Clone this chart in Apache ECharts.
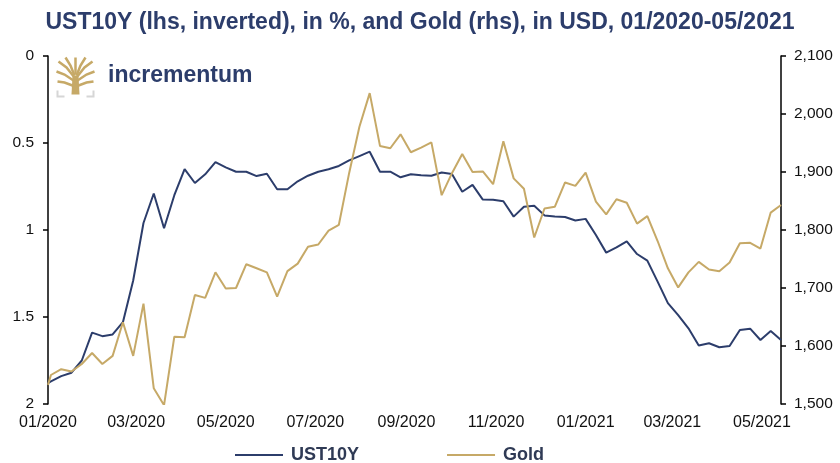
<!DOCTYPE html>
<html>
<head>
<meta charset="utf-8">
<script src="https://cdn.jsdelivr.net/npm/echarts@6/dist/echarts.min.js"></script>
<style>
  html, body { margin: 0; padding: 0; background: #fff; }
  #chart { width: 840px; height: 463px; }
</style>
</head>
<body>
<div id="chart"></div>
<script>
// weekly dates (first point is the axis start)
var dates = [
  '2020-01-01', '2020-01-03', '2020-01-10', '2020-01-17', '2020-01-24', '2020-01-31',
  '2020-02-07', '2020-02-14', '2020-02-21', '2020-02-28',
  '2020-03-06', '2020-03-13', '2020-03-20', '2020-03-27',
  '2020-04-03', '2020-04-10', '2020-04-17', '2020-04-24',
  '2020-05-01', '2020-05-08', '2020-05-15', '2020-05-22', '2020-05-29',
  '2020-06-05', '2020-06-12', '2020-06-19', '2020-06-26',
  '2020-07-03', '2020-07-10', '2020-07-17', '2020-07-24', '2020-07-31',
  '2020-08-07', '2020-08-14', '2020-08-21', '2020-08-28',
  '2020-09-04', '2020-09-11', '2020-09-18', '2020-09-25',
  '2020-10-02', '2020-10-09', '2020-10-16', '2020-10-23', '2020-10-30',
  '2020-11-06', '2020-11-13', '2020-11-20', '2020-11-27',
  '2020-12-04', '2020-12-11', '2020-12-18', '2020-12-25',
  '2021-01-01', '2021-01-08', '2021-01-15', '2021-01-22', '2021-01-29',
  '2021-02-05', '2021-02-12', '2021-02-19', '2021-02-26',
  '2021-03-05', '2021-03-12', '2021-03-19', '2021-03-26',
  '2021-04-02', '2021-04-09', '2021-04-16', '2021-04-23', '2021-04-30',
  '2021-05-07', '2021-05-14'
];

var ust10y = [
  1.88, 1.87, 1.84, 1.82, 1.75, 1.59, 1.61, 1.60, 1.53, 1.29,
  0.96, 0.79, 0.99, 0.80, 0.65, 0.73, 0.68, 0.61, 0.64, 0.665,
  0.665, 0.69, 0.677, 0.766, 0.766, 0.72, 0.688, 0.665, 0.651, 0.632,
  0.60, 0.575, 0.55, 0.665, 0.665, 0.697, 0.68, 0.686, 0.688, 0.67,
  0.678, 0.78, 0.741, 0.825, 0.826, 0.835, 0.923, 0.866, 0.861, 0.916,
  0.923, 0.925, 0.945, 0.936, 1.029, 1.13, 1.10, 1.065, 1.138, 1.176,
  1.297, 1.42, 1.489, 1.565, 1.664, 1.651, 1.674, 1.667, 1.575, 1.567,
  1.632, 1.58, 1.632
];

var gold = [
  1533, 1550, 1560, 1556, 1569, 1588, 1569, 1583, 1641, 1583,
  1673, 1527, 1498, 1616, 1615, 1688, 1683, 1727, 1699, 1700,
  1741, 1734, 1727, 1685, 1729, 1742, 1771, 1775, 1799, 1809,
  1898, 1978, 2036, 1945, 1941, 1965, 1934, 1942, 1951, 1860,
  1898, 1931, 1900, 1901, 1879, 1953, 1889, 1871, 1787, 1837,
  1840, 1882, 1876, 1899, 1849, 1827, 1853, 1847, 1811, 1824,
  1781, 1734, 1701, 1727, 1745, 1732, 1729, 1744, 1777, 1778,
  1768, 1830, 1843
];

var xTickDates = [
  '2020-01-01', '2020-03-01', '2020-05-01', '2020-07-01', '2020-09-01',
  '2020-11-01', '2021-01-01', '2021-03-01', '2021-05-01'
];
var xTickLabels = [
  '01/2020', '03/2020', '05/2020', '07/2020', '09/2020',
  '11/2020', '01/2021', '03/2021', '05/2021'
];

// day number counted from the first date (UTC, so no DST shifts)
var DAY = 86400000;
var t0 = Date.UTC(2020, 0, 1);
function toDay(s) {
  var p = s.split('-');
  return Math.round((Date.UTC(+p[0], +p[1] - 1, +p[2]) - t0) / DAY);
}
var tickDays = xTickDates.map(toDay);

var NAVY = '#2c3d6b';
var GOLD = '#c6a967';
var FONT = 'Liberation Sans, Arial, sans-serif';

var chart = echarts.init(document.getElementById('chart'));

chart.setOption({
  animation: false,
  backgroundColor: '#fff',
  title: {
    text: 'UST10Y (lhs, inverted), in %, and Gold (rhs), in USD, 01/2020-05/2021',
    left: 'center',
    top: 6,
    textStyle: { fontFamily: FONT, fontSize: 23, fontWeight: 'bold', color: NAVY }
  },
  legend: {
    top: 441,
    left: 230,
    icon: 'rect',
    itemWidth: 48,
    itemHeight: 2,
    itemGap: 88,
    textStyle: {
      fontFamily: FONT, fontSize: 18, fontWeight: 'bold', color: '#2f3a55',
      padding: [0, 0, 0, 3]
    },
    data: ['UST10Y', 'Gold']
  },
  grid: { left: 48, right: 59, top: 56, bottom: 59 },
  xAxis: {
    type: 'value',
    min: 0,
    max: toDay(dates[dates.length - 1]),
    axisLine: { show: false },
    axisTick: { show: false },
    splitLine: { show: false },
    axisLabel: {
      customValues: tickDays,
      margin: 11,
      fontFamily: FONT,
      fontSize: 16,
      color: '#111',
      showMinLabel: true,
      formatter: function (v) {
        var k = tickDays.indexOf(Math.round(v));
        return k >= 0 ? xTickLabels[k] : '';
      }
    }
  },
  yAxis: [
    {
      type: 'value',
      position: 'left',
      inverse: true,
      min: 0,
      max: 2,
      interval: 0.5,
      axisLine: { show: true, lineStyle: { color: '#000', width: 1.5 } },
      axisTick: { show: true, inside: false, length: 5, lineStyle: { color: '#000', width: 1.5 } },
      splitLine: { show: false },
      axisLabel: { margin: 14, fontFamily: FONT, fontSize: 15.5, color: '#111' }
    },
    {
      type: 'value',
      position: 'right',
      min: 1500,
      max: 2100,
      interval: 100,
      axisLine: { show: true, lineStyle: { color: '#000', width: 1.5 } },
      axisTick: { show: true, inside: false, length: 5, lineStyle: { color: '#000', width: 1.5 } },
      splitLine: { show: false },
      axisLabel: {
        margin: 13, fontFamily: FONT, fontSize: 15.5, color: '#111',
        formatter: function (v) { return v.toLocaleString('en-US'); }
      }
    }
  ],
  series: [
    {
      name: 'UST10Y',
      type: 'line',
      yAxisIndex: 0,
      showSymbol: false,
      symbol: 'none',
      lineStyle: { color: NAVY, width: 2 },
      itemStyle: { color: NAVY },
      data: dates.map(function (d, i) { return [toDay(d), ust10y[i]]; })
    },
    {
      name: 'Gold',
      type: 'line',
      yAxisIndex: 1,
      showSymbol: false,
      symbol: 'none',
      lineStyle: { color: GOLD, width: 2 },
      itemStyle: { color: GOLD },
      data: dates.map(function (d, i) { return [toDay(d), gold[i]]; })
    }
  ],
  graphic: [
    {
      type: 'group',
      left: 54,
      top: 55,
      children: [
        { type: 'polygon', shape: { points: [[16, 18], [22, 18], [23, 37], [15, 37]] }, style: { fill: GOLD } },
        { type: 'polyline', shape: { points: [[18, 20], [10, 10], [2, 4]] }, style: { stroke: GOLD, lineWidth: 2.5, fill: null } },
        { type: 'polyline', shape: { points: [[18, 18], [14, 8], [9, 0]] }, style: { stroke: GOLD, lineWidth: 2.5, fill: null } },
        { type: 'polyline', shape: { points: [[19, 17], [19, 0]] }, style: { stroke: GOLD, lineWidth: 2.5, fill: null } },
        { type: 'polyline', shape: { points: [[20, 18], [24, 8], [29, 0]] }, style: { stroke: GOLD, lineWidth: 2.5, fill: null } },
        { type: 'polyline', shape: { points: [[20, 20], [28, 10], [36, 4]] }, style: { stroke: GOLD, lineWidth: 2.5, fill: null } },
        { type: 'polyline', shape: { points: [[17, 23], [8, 17], [0, 14]] }, style: { stroke: GOLD, lineWidth: 2.5, fill: null } },
        { type: 'polyline', shape: { points: [[21, 23], [30, 17], [38, 14]] }, style: { stroke: GOLD, lineWidth: 2.5, fill: null } },
        { type: 'polyline', shape: { points: [[16, 28], [8, 25], [1, 24]] }, style: { stroke: GOLD, lineWidth: 2.5, fill: null } },
        { type: 'polyline', shape: { points: [[22, 28], [30, 25], [37, 24]] }, style: { stroke: GOLD, lineWidth: 2.5, fill: null } },
        { type: 'polyline', shape: { points: [[1, 33], [1, 39], [8, 39]] }, style: { stroke: '#d6d6d6', lineWidth: 2, fill: null } },
        { type: 'polyline', shape: { points: [[30, 39], [37, 39], [37, 33]] }, style: { stroke: '#d6d6d6', lineWidth: 2, fill: null } }
      ]
    },
    {
      type: 'text',
      left: 108,
      top: 64,
      style: { text: 'incrementum', fontFamily: FONT, fontSize: 23, fontWeight: 'bold', fill: NAVY }
    }
  ]
});
</script>
</body>
</html>
